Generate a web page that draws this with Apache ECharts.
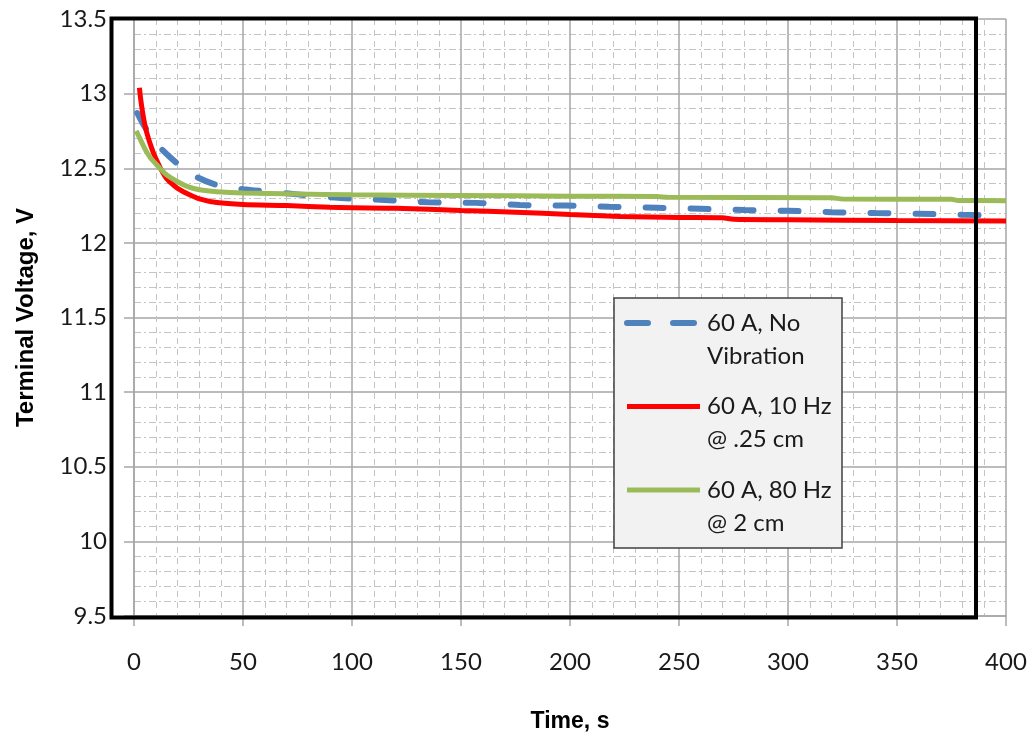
<!DOCTYPE html>
<html>
<head>
<meta charset="utf-8">
<script src="https://cdn.jsdelivr.net/npm/echarts@6/dist/echarts.min.js"></script>
<style>
  html, body { margin: 0; padding: 0; background: #fff; }
  #chart { width: 1032px; height: 738px; }
</style>
</head>
<body>
<div id="chart"></div>
<script>
// Terminal voltage under a 60 A load, with and without vibration
const xTicks = [0, 50, 100, 150, 200, 250, 300, 350, 400];
const yTicks = [9.5, 10, 10.5, 11, 11.5, 12, 12.5, 13, 13.5];

const seriesNames = ['60 A, No Vibration', '60 A, 10 Hz @ .25 cm', '60 A, 80 Hz @ 2 cm'];
// two-line legend entries; the leading blank line keeps the marker level with the first line
const legendLabels = ['\n60 A, No\nVibration', '\n60 A, 10 Hz\n@ .25 cm', '\n60 A, 80 Hz\n@ 2 cm'];

const timeNoVib = [1.5, 4, 8, 12.5, 20, 29, 37.6, 50, 75, 95, 115, 135, 157, 177, 198, 218, 240, 260, 280, 300, 320, 340, 360, 380, 392];
const voltNoVib = [12.87, 12.8, 12.71, 12.63, 12.53, 12.44, 12.39, 12.36, 12.325, 12.30, 12.288, 12.272, 12.268, 12.254, 12.25, 12.242, 12.235, 12.228, 12.22, 12.215, 12.206, 12.2, 12.195, 12.188, 12.185];

const time10Hz = [2.5, 3, 4, 5, 6, 7.5, 9, 10.5, 12.5, 15, 17.5, 20, 25, 30, 38, 50, 70, 90, 100, 120, 150, 175, 200, 223, 250, 270, 275, 300, 350, 400];
const volt10Hz = [13.04, 12.97, 12.87, 12.79, 12.73, 12.66, 12.6, 12.55, 12.49, 12.43, 12.395, 12.365, 12.325, 12.295, 12.27, 12.257, 12.25, 12.238, 12.235, 12.232, 12.217, 12.206, 12.19, 12.177, 12.17, 12.168, 12.158, 12.155, 12.15, 12.147];

const time80Hz = [1, 3, 5, 7.5, 10, 12.5, 15, 20, 25, 30, 38, 50, 75, 100, 150, 200, 240, 245, 320, 325, 375, 378, 400];
const volt80Hz = [12.75, 12.69, 12.63, 12.57, 12.53, 12.49, 12.455, 12.41, 12.375, 12.356, 12.343, 12.334, 12.328, 12.322, 12.318, 12.313, 12.31, 12.305, 12.302, 12.294, 12.292, 12.284, 12.283];

const zip = (xs, ys) => xs.map((x, i) => [x, ys[i]]);

const chart = echarts.init(document.getElementById('chart'), null, { renderer: 'canvas' });

const tickFont = { fontFamily: 'Lato', fontSize: 24, color: '#1a1a1a' };
const seriesColors = ['#4f81bd', '#ff0000', '#9bbb59'];

chart.setOption({
  animation: false,
  backgroundColor: '#ffffff',
  grid: { left: 134, right: 26, top: 19, bottom: 116, containLabel: false },
  xAxis: {
    type: 'value',
    min: xTicks[0],
    max: xTicks[xTicks.length - 1],
    interval: xTicks[1] - xTicks[0],
    name: 'Time, s',
    nameLocation: 'middle',
    nameGap: 94,
    nameTextStyle: { fontFamily: 'Liberation Sans', fontWeight: 'bold', fontSize: 23, color: '#000' },
    axisLine: { show: true, lineStyle: { color: '#a6a6a6', width: 1.5 } },
    axisTick: { show: true, length: 10, lineStyle: { color: '#a6a6a6', width: 1.5 } },
    axisLabel: Object.assign({ margin: 34 }, tickFont),
    splitLine: { show: true, lineStyle: { color: '#a6a6a6', width: 1.5 } },
    minorTick: { show: false, splitNumber: 5 },
    minorSplitLine: { show: true, lineStyle: { color: '#c4c4c4', width: 1, type: [6, 5] } }
  },
  yAxis: {
    type: 'value',
    min: yTicks[0],
    max: yTicks[yTicks.length - 1],
    interval: yTicks[1] - yTicks[0],
    name: 'Terminal Voltage, V',
    nameLocation: 'middle',
    nameRotate: 90,
    nameGap: 96,
    nameTextStyle: { fontFamily: 'Liberation Sans', fontWeight: 'bold', fontSize: 24, color: '#000' },
    axisLine: { show: true, lineStyle: { color: '#a6a6a6', width: 1.5 } },
    axisTick: { show: true, length: 10, lineStyle: { color: '#a6a6a6', width: 1.5 } },
    axisLabel: Object.assign({ margin: 27, formatter: v => String(v) }, tickFont),
    splitLine: { show: true, lineStyle: { color: '#a6a6a6', width: 1.5 } },
    minorTick: { show: false, splitNumber: 5 },
    minorSplitLine: { show: true, lineStyle: { color: '#c4c4c4', width: 1, type: [7, 3, 2, 3] } }
  },
  legend: {
    orient: 'vertical',
    left: 624,
    top: 273.5,
    padding: 0,
    itemGap: -15.5,
    itemWidth: 73,
    itemHeight: 8,
    z: 6,
    data: [
      { name: seriesNames[0], lineStyle: { type: [21, 25], width: 6, cap: 'round' } },
      { name: seriesNames[1] },
      { name: seriesNames[2] }
    ],
    formatter: name => legendLabels[seriesNames.indexOf(name)],
    lineStyle: { width: 'inherit' },
    itemStyle: { color: 'rgba(0,0,0,0)', borderColor: 'rgba(0,0,0,0)', borderWidth: 0 },
    textStyle: {
      fontFamily: 'Lato',
      fontSize: 24,
      lineHeight: 33,
      color: '#1a1a1a',
      padding: [0, 0, 0, 2]
    }
  },
  graphic: [
    {
      // plot frame
      type: 'rect',
      z: 50,
      silent: true,
      shape: { x: 111.5, y: 18.5, width: 864.5, height: 599 },
      style: { fill: 'none', stroke: '#000', lineWidth: 4 }
    },
    {
      // legend panel
      type: 'rect',
      z: 5,
      silent: true,
      shape: { x: 614, y: 298, width: 228, height: 250 },
      style: { fill: '#f2f2f2', stroke: '#404040', lineWidth: 1.5 }
    }
  ],
  series: [
    {
      name: seriesNames[0],
      type: 'line',
      data: zip(timeNoVib, voltNoVib),
      symbol: 'none',
      smooth: 0.25,
      lineStyle: { color: seriesColors[0], width: 6, type: [18, 27], cap: 'round' },
      itemStyle: { color: seriesColors[0] }
    },
    {
      name: seriesNames[1],
      type: 'line',
      data: zip(time10Hz, volt10Hz),
      symbol: 'none',
      smooth: 0.25,
      lineStyle: { color: seriesColors[1], width: 5 },
      itemStyle: { color: seriesColors[1] }
    },
    {
      name: seriesNames[2],
      type: 'line',
      data: zip(time80Hz, volt80Hz),
      symbol: 'none',
      smooth: 0.25,
      lineStyle: { color: seriesColors[2], width: 5 },
      itemStyle: { color: seriesColors[2] }
    }
  ]
});
</script>
</body>
</html>
